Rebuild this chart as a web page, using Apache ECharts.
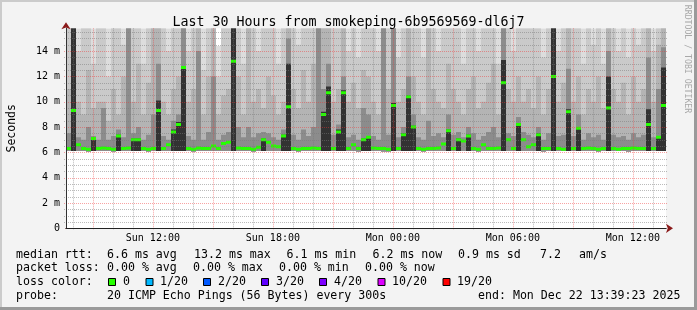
<!DOCTYPE html>
<html><head><meta charset="utf-8">
<script src="https://cdn.jsdelivr.net/npm/echarts@6/dist/echarts.min.js"></script>
<style>html,body{margin:0;padding:0;background:#f3f3f3}#c{width:697px;height:310px}</style>
</head><body><div id="c"></div><script>
// Time axis in hours since Sun 00:00; graph covers Sun 07:39:23 .. Mon 13:39:23
const startHour = 7 + 39/60 + 23/3600;
const endHour = startHour + 30;
const stepHours = 0.25;

// median rtt per step (ms)
const med = [
 6.3, 9.3, 6.6, 6.3, 6.25, 7.1, 6.3, 6.35, 6.3, 6.25,
 7.3, 6.3, 6.35, 7.0, 7.0, 6.3, 6.25, 6.3, 9.3, 6.3,
 6.6, 7.6, 8.2, 12.7, 6.3, 6.25, 6.35, 6.3, 6.3, 6.5,
 6.3, 6.7, 6.8, 13.2, 6.35, 6.3, 6.3, 6.25, 6.4, 7.0,
 6.8, 6.5, 6.45, 7.3, 9.6, 6.3, 6.25, 6.3, 6.3, 6.35,
 6.3, 9.0, 10.7, 6.3, 7.6, 10.7, 6.3, 6.6, 6.3, 7.0,
 7.2, 6.35, 6.3, 6.3, 6.25, 9.7, 6.3, 7.4, 10.4, 8.0,
 6.3, 6.25, 6.3, 6.3, 6.35, 6.65, 7.7, 6.3, 7.0, 6.9,
 7.3, 6.3, 6.25, 6.6, 6.3, 6.3, 6.35, 11.5, 7.0, 6.3,
 8.2, 7.0, 6.45, 6.6, 7.4, 6.3, 6.3, 12.0, 6.3, 6.25,
 9.2, 6.3, 7.9, 6.3, 6.35, 6.3, 6.25, 6.3, 9.5, 6.3,
 6.25, 6.3, 6.3, 6.35, 6.3, 6.3, 8.2, 6.3, 7.2, 9.7
];
// lowest ping per step (ms)
const lo = [
 6.1, 6.1, 6.1, 6.1, 6.05, 6.1, 6.1, 6.1, 6.1, 6.05,
 6.1, 6.1, 6.1, 6.1, 6.1, 6.1, 6.05, 6.1, 6.1, 6.1,
 6.1, 6.1, 6.1, 6.1, 6.1, 6.05, 6.1, 6.1, 6.1, 6.1,
 6.1, 6.1, 6.1, 6.1, 6.1, 6.1, 6.1, 6.05, 6.1, 6.1,
 6.1, 6.1, 6.1, 6.1, 6.1, 6.1, 6.05, 6.1, 6.1, 6.1,
 6.1, 6.1, 6.1, 6.1, 6.1, 6.1, 6.1, 6.1, 6.05, 6.1,
 6.1, 6.1, 6.1, 6.05, 6.05, 6.1, 6.1, 6.1, 6.1, 6.1,
 6.1, 6.05, 6.1, 6.1, 6.1, 6.1, 6.1, 6.1, 6.1, 6.1,
 6.1, 6.1, 6.05, 6.1, 6.1, 6.1, 6.1, 6.1, 6.1, 6.1,
 6.1, 6.1, 6.1, 6.1, 6.1, 6.05, 6.1, 6.1, 6.1, 6.1,
 6.1, 6.1, 6.1, 6.1, 6.1, 6.1, 6.05, 6.1, 6.1, 6.1,
 6.1, 6.1, 6.05, 6.1, 6.1, 6.1, 6.1, 6.1, 6.1, 6.1
];
// highest ping per step (ms, clipped at graph top)
const topPing = [
 15.8,15.8,15.8,15.8,15.8,15.8,15.8,15.8,15.8,15.8,
 15.8,15.8,15.8,15.8,15.8,15.8,15.8,15.8,15.8,15.8,
 15.8,15.8,15.8,15.8,15.8,15.8,15.8,15.8,15.8,15.8,
 14.4,15.8,15.8,15.8,15.8,15.8,15.8,15.8,15.8,15.8,
 15.8,15.8,15.8,15.8,15.8,15.8,15.8,15.8,15.8,15.8,
 15.8,15.8,15.8,15.8,15.8,15.8,15.8,15.8,15.8,15.8,
 15.8,15.8,15.8,15.8,15.8,15.8,15.8,15.8,15.8,15.8,
 15.8,15.8,15.8,15.8,15.8,15.8,15.8,15.8,15.8,15.8,
 15.8,15.8,15.8,15.8,15.8,15.8,15.8,15.8,15.8,15.8,
 15.8,15.8,15.8,15.8,15.8,15.8,15.8,15.8,15.8,15.8,
 15.8,15.8,15.8,15.8,15.8,15.8,15.8,15.8,15.8,15.8,
 15.8,15.8,15.8,15.8,15.8,15.8,15.8,15.8,15.8,15.8
];
// upper edge of outer smoke pair (ms)
const smoke2 = [
 15.8,15.8,14,15.8,15.8,13,15.8,15.8,12,15.8,
 15.8,14.5,15.8,15.8,15.8,13,15.8,15.8,15.8,15.8,
 14,15.8,15.8,15.8,14,15.8,15.8,12.5,15.8,15.8,
 12,15.8,15.8,15.8,15.8,13,15.8,15.8,14,15.8,
 15.8,15.8,13,15.8,15.8,15.8,14.5,15.8,15.8,15.8,
 15.8,15.8,15.8,15.8,15.8,15.8,14,15.8,13.5,15.8,
 15.8,15.8,14,15.8,15.8,15.8,13.5,15.8,15.8,15.8,
 15.8,13.5,15.8,15.8,14,15.8,15.8,15.8,15.8,13,
 15.8,15.8,14,15.8,15.8,15.8,13,15.8,15.8,14,
 15.8,15.8,15.8,15.8,15.8,13.5,15.8,15.8,14,15.8,
 15.8,15.8,15.8,13,15.8,14.5,15.8,13,15.8,15.8,
 14,15.8,13.5,15.8,14.5,15.8,15.8,14,15.8,15.8
];
// upper edge of middle smoke pair (ms)
const smoke3 = [
 11,15.8,10,9,12.5,9.5,10,10,8.5,11,
 9,12,15.8,10,13,9,11.5,15.8,15.8,10,
 9,11,12,15.8,10,11,15.8,9,12,15.8,
 9,10.5,11,15.8,12,9,15.8,10,11,9.5,
 12,10.5,9,10,15.8,11,9.5,12.5,10,13,
 15.8,15.8,15.8,10,11,15.8,10,11.5,9.5,12.5,
 12,10,9,15.8,11,15.8,10,11,15.8,12,
 10,9,15.8,11,10,9.5,13,11,10,9,
 11,12,9.5,10,11.5,13,9,15.8,11,10,
 12,10,11,9.5,12,9,11,15.8,10,11.5,
 15.8,10,12,9,11,10,12,9.5,15.8,11,
 10,11.5,9,12,10,11,15.8,10,14.5,15.8
];
// upper edge of inner smoke pair (ms)
const smoke4 = [
 7.5,15.8,7.2,7,8,7.3,7,9.5,7,7.3,
 7.8,7.2,15.8,7.5,8,7,7.4,9,13,7.3,
 7,8.5,9,15.8,7.3,7,14,7,7.6,12,
 7,7.4,7.6,15.8,8,7.2,8,7.2,7.5,7.6,
 7.5,7.2,7,7.8,15,7.4,7,7.8,7.3,8,
 15.8,11,13,7.4,8.2,12,7.2,7.4,7,9.5,
 9,7.3,7,15.8,7.4,15.8,7.2,8,12,9,
 7.2,7,8.5,7.3,7.5,7.2,9,7.4,7.6,7.2,
 8,7.5,7,7.3,7.6,8,7.2,15.8,7.5,7.3,
 8.8,7.6,7.4,7.2,8,7,7.5,15.8,7.3,7.4,
 12.6,7.3,9,7,7.5,7.2,7.4,7,14,7.4,
 7.2,7.3,7,7.5,7.2,7.4,13.5,7.2,11,14.3
];
// upper edge of the central (median) pair where it stands out (ms, 0 = none)
const smoke5 = [
 0,15.8,0,0,0,7.2,0,0,0,0,
 7.4,0,0,7.1,7.1,0,0,0,10.1,0,
 0,7.8,8.4,12.8,0,0,0,0,0,0,
 0,0,0,15.8,0,0,0,0,0,7.1,
 0,0,0,7.4,13,0,0,0,0,0,
 0,9.2,11.2,0,7.8,10.9,0,0,0,7.1,
 7.3,0,0,0,0,9.9,0,7.5,10.5,8.1,
 0,0,0,0,0,0,7.8,0,7.1,0,
 7.4,0,0,0,0,0,0,13.3,0,0,
 8.3,0,0,0,7.5,0,0,15.8,0,0,
 9.4,0,8.0,0,0,0,0,0,12,0,
 0,0,0,0,0,0,9.4,0,7.3,12.7
];

const xMinorTicks = [8,10,11,13,14,16,17,19,20,22,23,25,26,28,29,31,32,34,35,37];
const xMajorTicks = [9,12,15,18,21,24,27,30,33,36];
const xLabelTicks = [12,18,24,30,36];
const xLabelTexts = ['Sun 12:00','Sun 18:00','Mon 00:00','Mon 06:00','Mon 12:00'];
const yMajorTicks = [0,2,4,6,8,10,12,14];
const yLabelTexts = ['0','2 m','4 m','6 m','8 m','10 m','12 m','14 m'];
const yMinorTicks = [0.5,1,1.5,2.5,3,3.5,4.5,5,5.5,6.5,7,7.5,8.5,9,9.5,10.5,11,11.5,12.5,13,13.5,14.5,15,15.5];
const yMax = 15.8;

const lossLabels = ['0','1/20','2/20','3/20','4/20','10/20','19/20'];
const lossColors = ['#26ff00','#00b8ff','#0059ff','#5e00ff','#7e00ff','#dd00ff','#ff0000'];

const times = med.map((_, i) => startHour + i * stepHours);
const smokeData = times.map((t, i) => [t, lo[i], topPing[i], smoke2[i], smoke3[i], smoke4[i], smoke5[i]]);
const medData = times.map((t, i) => [t, med[i]]);
// grid lines: [value, 0 = vertical / 1 = horizontal, 0 = minor / 1 = major]
const gridData = [].concat(
  xMinorTicks.map(v => [v, 0, 0]), yMinorTicks.map(v => [v, 1, 0]),
  xMajorTicks.map(v => [v, 0, 1]), yMajorTicks.filter(v => v > 0).map(v => [v, 1, 1])
);

const MONO = '"DejaVu Sans Mono", monospace';
const shades = ['#dddddd','#cacaca','#b4b4b4','#8c8c8c','#323232'];
const minorColor = 'rgba(120,120,120,0.5)';
const majorColor = 'rgba(240,50,50,0.45)';
const arrowColor = '#8b1a1a';

function smokeItem(params, api) {
  const t0 = api.value(0), t1 = t0 + stepHours, base = api.value(1);
  const xa = Math.round(api.coord([t0, 0])[0]);
  const xb = Math.round(api.coord([t1, 0])[0]);
  const yb = api.coord([t0, base])[1];
  const children = [];
  for (let k = 0; k < 5; k++) {
    const v = api.value(2 + k);
    if (!(v > base)) continue;
    const yt = api.coord([t0, v])[1];
    children.push({type:'rect', shape:{x:xa, y:yt, width:xb - xa, height:yb - yt}, style:{fill:shades[k]}});
  }
  return {type:'group', children};
}
function medItem(params, api) {
  const t0 = api.value(0), t1 = t0 + stepHours, v = api.value(1);
  const p0 = api.coord([t0, v]), p1 = api.coord([t1, v]);
  const xa = Math.round(p0[0]), xb = Math.round(p1[0]);
  return {type:'rect', shape:{x:xa, y:p0[1] - 1.5, width:xb - xa, height:3}, style:{fill:lossColors[0]}};
}
function gridItem(params, api) {
  const cs = params.coordSys;
  const v = api.value(0), horiz = api.value(1) === 1, major = api.value(2) === 1;
  let shape;
  if (horiz) {
    const y = Math.round(api.coord([startHour, v])[1]) + 0.5;
    shape = {x1:cs.x - 2, y1:y, x2:cs.x + cs.width + 2, y2:y};
  } else {
    const x = Math.round(api.coord([v, 0])[0]) + 0.5;
    shape = {x1:x, y1:cs.y, x2:x, y2:cs.y + cs.height + 2};
  }
  return {type:'line', shape, style:{stroke: major ? majorColor : minorColor, lineWidth:1, lineDash:[1,1]}};
}

const chart = echarts.init(document.getElementById('c'), null, {width:697, height:310});

const legendRows = [
  {y:254.5, items:[[16,'median rtt:'],[107,'6.6 ms avg'],[194,'13.2 ms max'],[286.5,'6.1 ms min'],[372.5,'6.2 ms now'],[458,'0.9 ms sd'],[540,'7.2'],[579,'am/s']]},
  {y:268.3, items:[[16,'packet loss:'],[107,'0.00 % avg'],[193,'0.00 % max'],[279,'0.00 % min'],[365,'0.00 % now']]},
  {y:282.3, items:[[16,'loss color:']]},
  {y:296, items:[[16,'probe:'],[107,'20 ICMP Echo Pings (56 Bytes) every 300s'],[478,'end: Mon Dec 22 13:39:23 2025']]}
];
const graphics = [
  {type:'rect', shape:{x:0,y:0,width:697,height:2}, style:{fill:'#cbcbcb'}},
  {type:'rect', shape:{x:0,y:0,width:2,height:310}, style:{fill:'#cbcbcb'}},
  {type:'rect', shape:{x:0,y:307,width:697,height:3}, style:{fill:'#9a9a9a'}},
  {type:'rect', shape:{x:694,y:0,width:3,height:310}, style:{fill:'#9a9a9a'}},
  {type:'text', x:687.5, y:59, rotation:-Math.PI/2, style:{text:'RRDTOOL / TOBI OETIKER', fontFamily:MONO, fontSize:8.2, fill:'#a8a8a8', align:'center', verticalAlign:'middle'}}
];
legendRows.forEach(r => r.items.forEach(([x, s]) => graphics.push({type:'text', x:x, y:r.y, style:{text:s, fontFamily:MONO, fontSize:11.6, fill:'#000', align:'left', verticalAlign:'middle'}})));
const boxX = [108.5, 146, 203.5, 261.5, 319.5, 378, 443];
const boxTextX = [123, 160, 218, 276, 334, 392, 457];
lossLabels.forEach((lab, i) => {
  graphics.push({type:'rect', shape:{x:boxX[i], y:278.5, width:7, height:7}, style:{fill:lossColors[i], stroke:'#000', lineWidth:1}});
  graphics.push({type:'text', x:boxTextX[i], y:282.3, style:{text:lab, fontFamily:MONO, fontSize:11.6, fill:'#000', align:'left', verticalAlign:'middle'}});
});

chart.setOption({
  backgroundColor:'#f3f3f3',
  animation:false,
  title:{text:'Last 30 Hours from smokeping-6b9569569-dl6j7', left:'center', top:11,
    textStyle:{fontFamily:MONO, fontSize:13.3, fontWeight:'normal', color:'#000'}},
  grid:{left:66, top:28.3, width:600, height:200, show:true, backgroundColor:'#ffffff', borderWidth:0,
    containLabel:false, outerBoundsMode:'none'},
  xAxis:[
    {type:'value', min:startHour, max:endHour, position:'bottom', z:6,
     axisLine:{show:true, onZero:false, lineStyle:{color:'#222', width:1}},
     axisTick:{show:false},
     axisLabel:{show:false},
     splitLine:{show:false}},
    {type:'value', min:startHour, max:endHour, position:'bottom', z:5,
     axisLine:{show:true, onZero:false, symbol:['none','arrow'], symbolSize:[7,7], symbolOffset:[0,7], lineStyle:{color:arrowColor, width:1}},
     axisTick:{show:false},
     axisLabel:{show:true, customValues:xLabelTicks, margin:5, fontFamily:MONO, fontSize:10, color:'#000',
       formatter:(v) => { const k = xLabelTicks.indexOf(Math.round(v)); return k >= 0 ? xLabelTexts[k] : ''; }},
     splitLine:{show:false}}
  ],
  yAxis:[
    {type:'value', min:0, max:yMax, position:'left', z:5, name:'Seconds', nameLocation:'middle', nameRotate:90, nameGap:48,
     nameTextStyle:{fontFamily:MONO, fontSize:11.5, color:'#000'},
     axisLine:{show:true, onZero:false, symbol:['none','arrow'], symbolSize:[7,7], symbolOffset:[0,6], lineStyle:{color:arrowColor, width:1}},
     axisTick:{show:false},
     axisLabel:{show:true, customValues:yMajorTicks, margin:6, fontFamily:MONO, fontSize:10, color:'#000',
       formatter:(v) => { const k = yMajorTicks.indexOf(Math.round(v)); return k >= 0 ? yLabelTexts[k] : ''; }},
     splitLine:{show:false}},
    {type:'value', min:0, max:yMax, position:'left', offset:0, z:6,
     axisLine:{show:true, onZero:false, lineStyle:{color:'#333', width:1}},
     axisTick:{show:false},
     axisLabel:{show:false},
     splitLine:{show:false}}
  ],
  series:[
    {type:'custom', name:'smoke', xAxisIndex:0, yAxisIndex:0, renderItem:smokeItem, data:smokeData, encode:{x:0, y:1}, clip:true, z:2, silent:true},
    {type:'custom', name:'median', xAxisIndex:0, yAxisIndex:0, renderItem:medItem, data:medData, encode:{x:0, y:1}, clip:true, z:3, silent:true},
    {type:'custom', name:'grid', xAxisIndex:0, yAxisIndex:0, renderItem:gridItem, data:gridData, encode:{x:0}, clip:false, z:4, silent:true}
  ],
  graphic:graphics
});
</script></body></html>
